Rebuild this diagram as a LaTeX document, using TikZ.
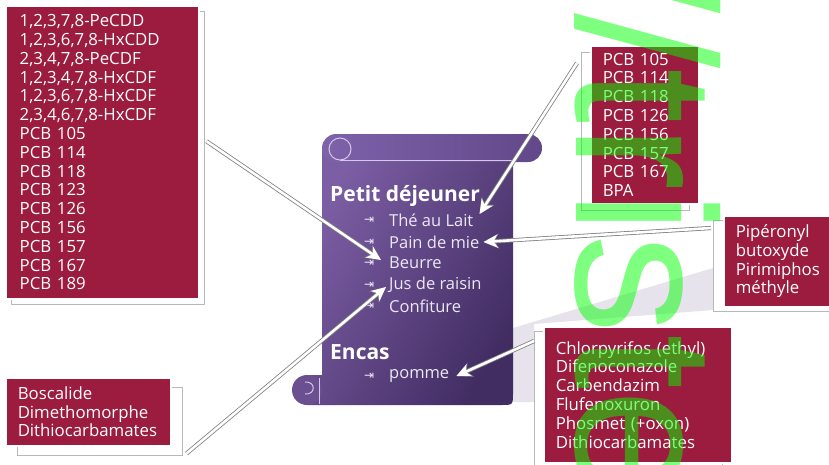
\documentclass[tikz,border=0pt]{standalone}
\usepackage{fontspec}
\setmainfont{Open Sans}
\newfontfamily\wmfont{Liberation Sans}
\newfontfamily\symfont{DejaVu Sans}
\usetikzlibrary{arrows.meta, positioning, shadows, calc}
\definecolor{crimson}{RGB}{155,28,62}
\definecolor{scrollL}{RGB}{124,94,164}
\definecolor{scrollD}{RGB}{66,45,99}
\definecolor{rollL}{RGB}{126,98,170}
\definecolor{rollD}{RGB}{98,72,138}
\definecolor{curl}{RGB}{214,200,232}
\definecolor{floor}{RGB}{230,227,237}
\definecolor{itemtxt}{RGB}{236,232,244}

\begin{document}
\begin{tikzpicture}[x=1pt, y=-1pt,
        p/.style={fill=crimson, draw=white, line width=1.5pt, text=white, align=left, anchor=north west,
          inner ysep=0pt, font=\fontsize{16.8}{18.8}\selectfont},
        sh/.style 2 args={copy shadow={shadow xshift=#1, shadow yshift=#2, opacity=1, fill=white, draw=black!28, line width=0.8pt}},
        hd/.style={anchor=west, inner sep=0pt, text=white, font=\bfseries\fontsize{21}{24}\selectfont},
        it/.style={anchor=west, inner sep=0pt, text=itemtxt, font=\fontsize{16.5}{20}\selectfont},
        bl/.style={anchor=west, inner sep=0pt, text=itemtxt, font=\symfont\fontsize{12}{12}\selectfont},
        e/.style={-{Stealth[length=14pt, width=13pt, inset=4pt]}, white, line width=2.6pt,
          preaction={draw=black!50, line width=4.2pt, -{Stealth[length=15.5pt, width=15pt, inset=4.5pt]}}},
        wm/.style={rotate=-90, anchor=base west, inner sep=0pt, text=green, text opacity=0.5,
          font=\wmfont\fontsize{199}{199}\selectfont}]
        \useasboundingbox (0,0) rectangle (829,464);
        \fill[white] (0,0) rectangle (829,464);

        \fill[floor] (513,328) -- (713,268) -- (713,310) -- (534,324) -- (534,402) -- (513,402) -- cycle;

        \path[shading=axis, left color=scrollL, right color=scrollD, shading angle=60]
          (322,150) -- (513,150) -- (513,393) .. controls (513,405) .. (501,405) -- (307,405) -- (307,375) -- (322,375) -- cycle;
        \fill[scrollL!70!scrollD] (307,390) circle[radius=15];
        \draw[curl, line width=1pt] (319,378) -- (319,404);
        \draw[curl, line width=1pt] (305,382) .. controls (316,381) and (316,395) .. (305,394);
        \path[shading=axis, left color=rollL, right color=rollD, rounded corners=14pt] (322,134) rectangle (542,162);
        \draw[curl, line width=1pt] (340,149) circle[radius=11];
        \draw[curl, line width=1pt] (340,160) -- (512,160);

        \draw node[p, sh={6pt}{-6pt}, minimum width=193, minimum height=293, inner xsep=14pt, text width=165] (lbox) at (5,5)
          {1,2,3,7,8-PeCDD\\1,2,3,6,7,8-HxCDD\\2,3,4,7,8-PeCDF\\1,2,3,4,7,8-HxCDF\\1,2,3,6,7,8-HxCDF\\2,3,4,6,7,8-HxCDF\\
           PCB 105\\PCB 114\\PCB 118\\PCB 123\\PCB 126\\PCB 156\\PCB 157\\PCB 167\\PCB 189};
        \draw node[p, sh={-9pt}{-7pt}, minimum width=108, minimum height=158, inner xsep=12pt, text width=84] (trbox) at (590,45)
          {PCB 105\\PCB 114\\PCB 118\\PCB 126\\PCB 156\\PCB 157\\PCB 167\\BPA};
        \draw node[p, sh={-10pt}{-5pt}, minimum width=130, minimum height=91, inner xsep=12pt, text width=106] (pbox) at (723,215)
          {Pipéronyl\\butoxyde\\Pirimiphos\\méthyle};
        \draw node[p, sh={-9pt}{-5pt}, minimum width=188, minimum height=136, inner xsep=12pt, text width=164] (brbox) at (543,326)
          {Chlorpyrifos (ethyl)\\Difenoconazole\\Carbendazim\\Flufenoxuron\\Phosmet (+oxon)\\Dithiocarbamates};
        \draw node[p, sh={12pt}{-10pt}, minimum width=165, minimum height=68, inner xsep=12pt, text width=141] (blbox) at (5,377)
          {Boscalide\\Dimethomorphe\\Dithiocarbamates};

        \draw node[hd] (pd) at (330,196) {Petit déjeuner};
        \foreach \y/\t [count=\i] in {220/Thé au Lait, 242/Pain de mie, 263/Beurre, 285/Jus de raisin, 306/Confiture}
        \draw node[bl] (b\i) at (364,\y) {⇥} node[it] (m\i) at (389,\y) {\t};
        \draw node[hd] (enc) at (330,352) {Encas};
        \draw node[bl] (b6) at (364,376) {⇥} node[it] (m6) at (389,376) {pomme};

        \draw[e] ($(lbox.east)+(7,-11)$) -- ($(m3.west)+(-8,-3)$);
        \draw[e] ($(blbox.south east)+(15,7)$) -- ($(m4.west)+(-3,2)$);
        \draw[e] ($(trbox.north west)+(-13,18)$) -- ($(m1.east)+(6,-6)$);
        \draw[e] ($(pbox.north west)+(-12,13)$) -- ($(m2.east)+(4,0)$);
        \draw[e] ($(brbox.north west)+(-9,15)$) -- ($(m6.east)+(7,0)$);

        \draw node[wm] (wm) at (576,-42) {//triste};
      \end{tikzpicture}
\end{document}
